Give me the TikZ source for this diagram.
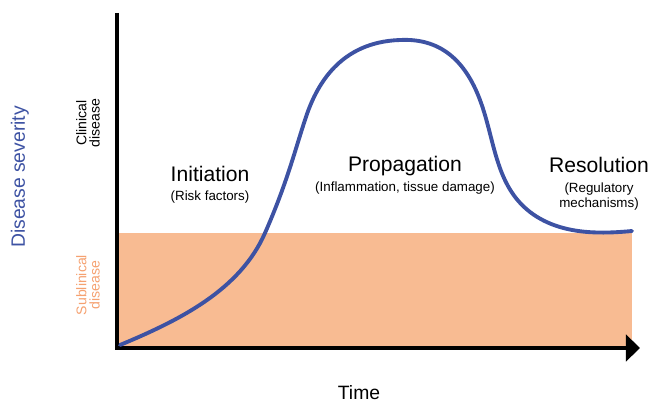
\documentclass[tikz,border=0pt]{standalone}
\usepackage{fontspec}
\setmainfont{Liberation Sans}
\usetikzlibrary{arrows.meta}
\usetikzlibrary{positioning}

\definecolor{severity_blue}{HTML}{3D52A3}
\definecolor{sub_fill}{HTML}{F8BB92}
\definecolor{sub_text}{HTML}{F5A170}

\tikzset{
    phase/.style={font=\fontsize{12}{14}\selectfont, inner sep=0pt, text depth=0pt},
    phase_note/.style={font=\fontsize{7.6}{8.7}\selectfont, align=center, inner sep=0pt},
    side_label/.style={font=\fontsize{8}{7.6}\selectfont, align=center, rotate=90, inner sep=0pt},
    axis_line/.style={line width=2.3pt, line join=miter},
    severity_curve/.style={line width=2.2pt, severity_blue, line cap=round},
}

\begin{document}
\begin{tikzpicture}[x=0.02cm, y=-0.02cm]
    \useasboundingbox (0,0) rectangle (651,405);

        % Axes corners
        \coordinate (origin) at (117,348);
        \coordinate (y_top) at (117,13);
        \coordinate (x_end) at (640,348);

        % Sublinical band
        \fill[sub_fill] (origin) rectangle (632,233);

        \draw[axis_line, -{Triangle[length=8pt, width=15pt]}] (y_top) -- (origin) -- (x_end);

        % Severity over time
        \draw[severity_curve] (120,345)
            .. controls (180,320) and (240,290) .. (265,233)
            .. controls (287,183) and (295,150) .. (305,120)
            .. controls (316,85) and (340,42) .. (400,40)
            .. controls (440,38) and (465,60) .. (480,100)
            .. controls (495,140) and (495,185) .. (530,212)
            .. controls (560,235) and (600,234) .. (632,231);

        % Phases with their notes
        \foreach \i/\x/\y/\title/\note in {initiation/210/181/Initiation/(Risk factors),
                                          propagation/405/172/Propagation/(Inflammation{,} tissue damage),
                                          resolution/599/173/Resolution/{(Regulatory\\mechanisms)}} {
            \node[phase, anchor=base] (\i) at (\x,\y) {\title};
            \node[phase_note, below=5pt of \i] (\i_note) {\note};
        }

        % Axis labels
        \node[font=\fontsize{11}{13}\selectfont, text=severity_blue, rotate=90] (severity) at (20,177) {Disease severity};
        \node[side_label] (clinical) at (88,123) {Clinical\\disease};
        \node[side_label, text=sub_text] (sublinical) at (88,285) {Sublinical\\disease};
        \node[font=\fontsize{11}{13}\selectfont] (time) at (359,393) {Time};
    \end{tikzpicture}
\end{document}
